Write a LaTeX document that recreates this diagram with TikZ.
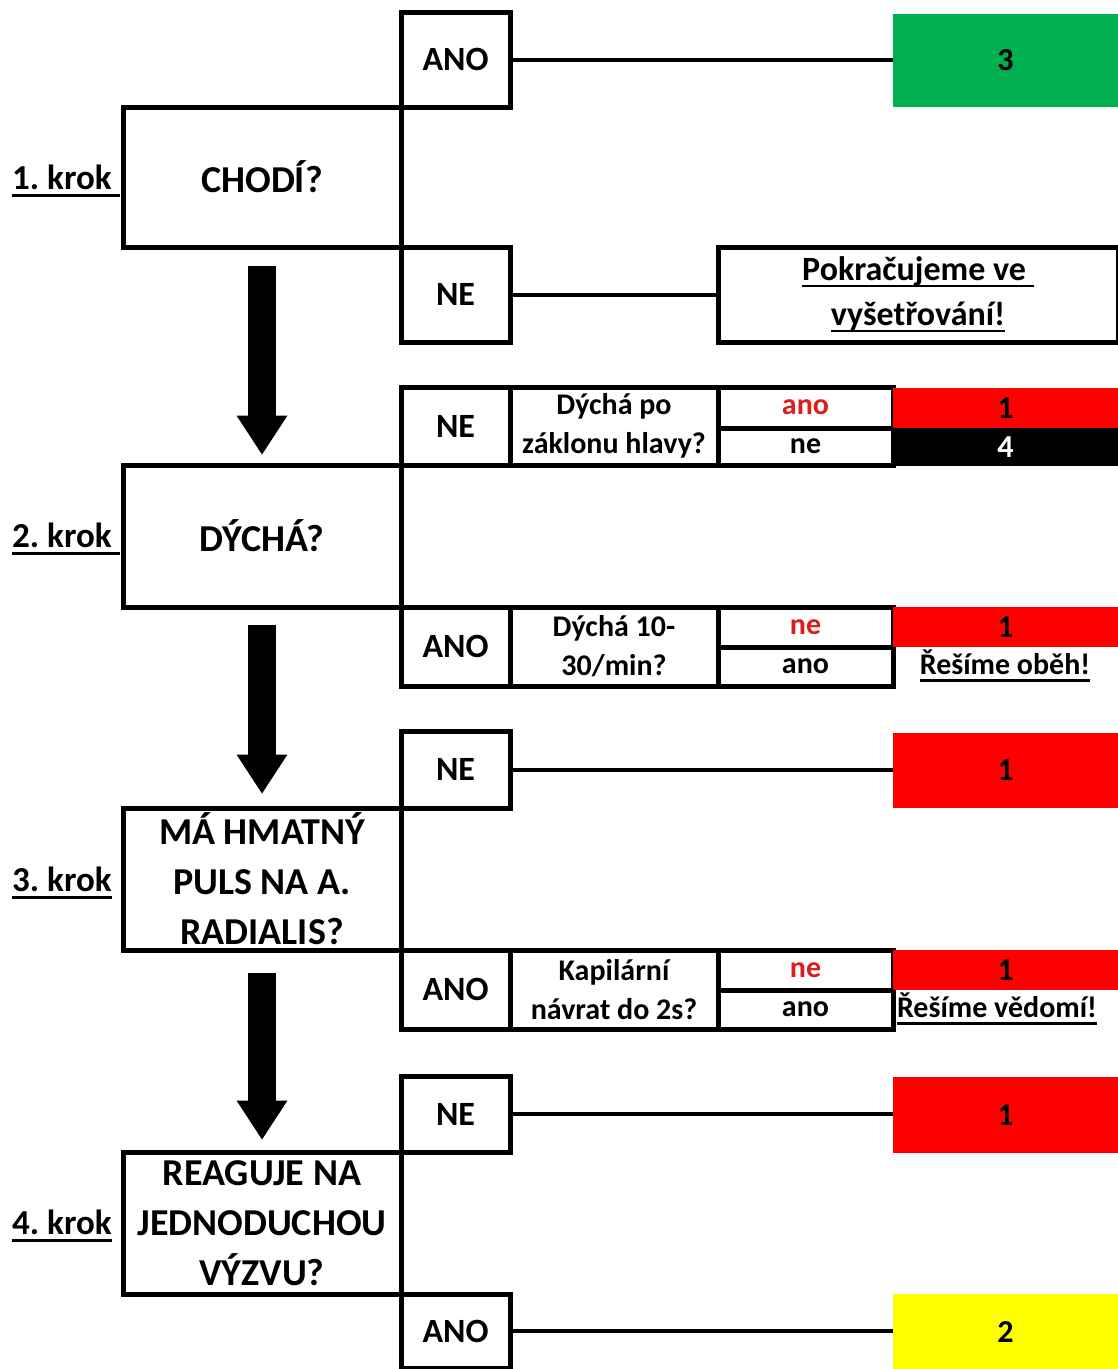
\documentclass[tikz,border=0pt]{standalone}
\usepackage{fontspec}
\setmainfont{Carlito}
\usetikzlibrary{calc}
\definecolor{tgreen}{HTML}{00B050}
\definecolor{tred}{HTML}{FF0000}
\definecolor{tyellow}{HTML}{FFFF00}
\definecolor{tredtext}{HTML}{E01B1B}
\newcommand\myul[1]{\leavevmode\setbox0=\hbox{#1}\rlap{\rule[-7pt]{\wd0}{2.6pt}}\box0}
\frenchspacing
\begin{document}
\begin{tikzpicture}[x=1pt,y=-1pt,
  qbox/.style={draw, line width=5pt, inner sep=0pt, minimum width=278pt, minimum height=141pt, align=center, font=\bfseries\fontsize{38}{50}\selectfont},
  ynbox/.style={draw, line width=5pt, inner sep=0pt, minimum width=109pt, align=center, font=\bfseries\fontsize{34}{40}\selectfont},
  cell/.style={draw, line width=5pt, inner sep=0pt, align=center, font=\bfseries\fontsize{30}{39}\selectfont},
  res/.style={inner sep=0pt, minimum width=225pt, font=\bfseries\fontsize{32}{40}\selectfont},
  note/.style={inner sep=0pt, font=\bfseries\fontsize{30}{39}\selectfont},
  krok/.style={inner sep=0pt, anchor=west, font=\bfseries\fontsize{35}{40}\selectfont},
  conn/.style={line width=4pt},
  shaft/.style={line width=28pt}
]
\useasboundingbox (0,0) rectangle (1118,1369);
\fill[white] (0,0) rectangle (1118,1369);

% ---------- step 1
\node[ynbox, minimum height=95pt] (ano1) at (455.5,59.5) {ANO};
\node[qbox, minimum height=140pt] (q1) at (262,177) {CHODÍ?};
\node[ynbox, minimum height=95pt] (ne1) at (455.5,294.5) {NE};
\node[res, fill=tgreen, minimum height=93pt] (r1) at (1005.5,60.5) {3};
\node[draw, line width=5pt, inner sep=0pt, minimum width=400pt, minimum height=95pt, align=center,
      font=\bfseries\fontsize{34}{45}\selectfont] (pk) at (918,294.5) {\myul{Pokračujeme ve~}\\\myul{vyšetřování!}};
\node[krok] (k1) at (12,181) {\myul{1. krok~}};
\draw[conn] (ano1.east) -- (ano1.east -| r1.west);
\draw[conn] (ne1.east) -- (ne1.east -| pk.west);

% ---------- step 2
\node[qbox, minimum height=142pt] (q2) at (262,536) {DÝCHÁ?};
\node[krok] (k2) at (12,539) {\myul{2. krok~}};
\node[cell, minimum width=109pt, minimum height=78pt, font=\bfseries\fontsize{34}{40}\selectfont] (ne2) at (455.5,426) {NE};
\node[cell, minimum width=208pt, minimum height=78pt] (t2q) at (614,426) {Dýchá po\\záklonu hlavy?};
\node[cell, minimum width=175pt, minimum height=41pt, text=tredtext] (t2a) at (805.5,407.5) {ano};
\node[cell, minimum width=175pt, minimum height=37pt] (t2b) at (805.5,446.5) {ne};
\node[res, fill=tred, minimum height=40pt] (r2a) at (1005.5,408) {1};
\node[res, fill=black, text=white, minimum height=38pt] (r2b) at (1005.5,447) {4};

\node[cell, minimum width=109pt, minimum height=79pt, font=\bfseries\fontsize{34}{40}\selectfont] (ano2) at (455.5,646.5) {ANO};
\node[cell, minimum width=208pt, minimum height=79pt] (t2c) at (614,646.5) {Dýchá 10-\\30/min?};
\node[cell, minimum width=175pt, minimum height=40pt, text=tredtext] (t2d) at (805.5,627) {ne};
\node[cell, minimum width=175pt, minimum height=39pt] (t2e) at (805.5,666.5) {ano};
\node[res, fill=tred, minimum height=40pt] (r2c) at (1005.5,627) {1};
\node[note] (r2d) at (1005,666) {\myul{Řešíme oběh!}};

% ---------- step 3
\node[ynbox, minimum height=77pt] (ne3) at (455.5,769.5) {NE};
\node[res, fill=tred, minimum height=75pt] (r3a) at (1005.5,770.5) {1};
\draw[conn] (ne3.east) -- (ne3.east -| r3a.west);
\node[qbox, minimum height=142pt] (q3) at (262,879) {MÁ HMATNÝ\\PULS NA A.\\RADIALIS?};
\node[krok] (k3) at (12,883) {\myul{3. krok}};
\node[cell, minimum width=109pt, minimum height=79pt, font=\bfseries\fontsize{34}{40}\selectfont] (ano3) at (455.5,989.5) {ANO};
\node[cell, minimum width=208pt, minimum height=79pt] (t3q) at (614,989.5) {Kapilární\\návrat do 2s?};
\node[cell, minimum width=175pt, minimum height=40pt, text=tredtext] (t3a) at (805.5,970) {ne};
\node[cell, minimum width=175pt, minimum height=39pt] (t3b) at (805.5,1009.5) {ano};
\node[res, fill=tred, minimum height=40pt] (r3b) at (1005.5,970) {1};
\node[note] (r3c) at (997,1009) {\myul{Řešíme vědomí!}};

% ---------- step 4
\node[ynbox, minimum height=76pt] (ne4) at (455.5,1114) {NE};
\node[res, fill=tred, minimum height=76pt] (r4a) at (1005.5,1115) {1};
\draw[conn] (ne4.east) -- (ne4.east -| r4a.west);
\node[qbox, minimum height=142pt] (q4) at (262,1223) {REAGUJE NA\\JEDNODUCHOU\\VÝZVU?};
\node[krok] (k4) at (12,1226) {\myul{4. krok}};
\node[ynbox, minimum height=74pt] (ano4) at (455.5,1331) {ANO};
\node[res, fill=tyellow, minimum height=75pt] (r4b) at (1005.5,1331.5) {2};
\draw[conn] (ano4.east) -- (ano4.east -| r4b.west);

% ---------- big arrows
\draw[shaft] ([yshift=-16pt]q1.south) -- ([yshift=47pt]q2.north);
\fill ([xshift=-25.5pt,yshift=47pt]q2.north) -- ([xshift=25.5pt,yshift=47pt]q2.north) -- ([yshift=8pt]q2.north) -- cycle;
\draw[shaft] ([yshift=-15pt]q2.south) -- ([yshift=51pt]q3.north);
\fill ([xshift=-25.5pt,yshift=51pt]q3.north) -- ([xshift=25.5pt,yshift=51pt]q3.north) -- ([yshift=12pt]q3.north) -- cycle;
\draw[shaft] ([yshift=-20pt]q3.south) -- ([yshift=49pt]q4.north);
\fill ([xshift=-25.5pt,yshift=49pt]q4.north) -- ([xshift=25.5pt,yshift=49pt]q4.north) -- ([yshift=10pt]q4.north) -- cycle;
\end{tikzpicture}
\end{document}
